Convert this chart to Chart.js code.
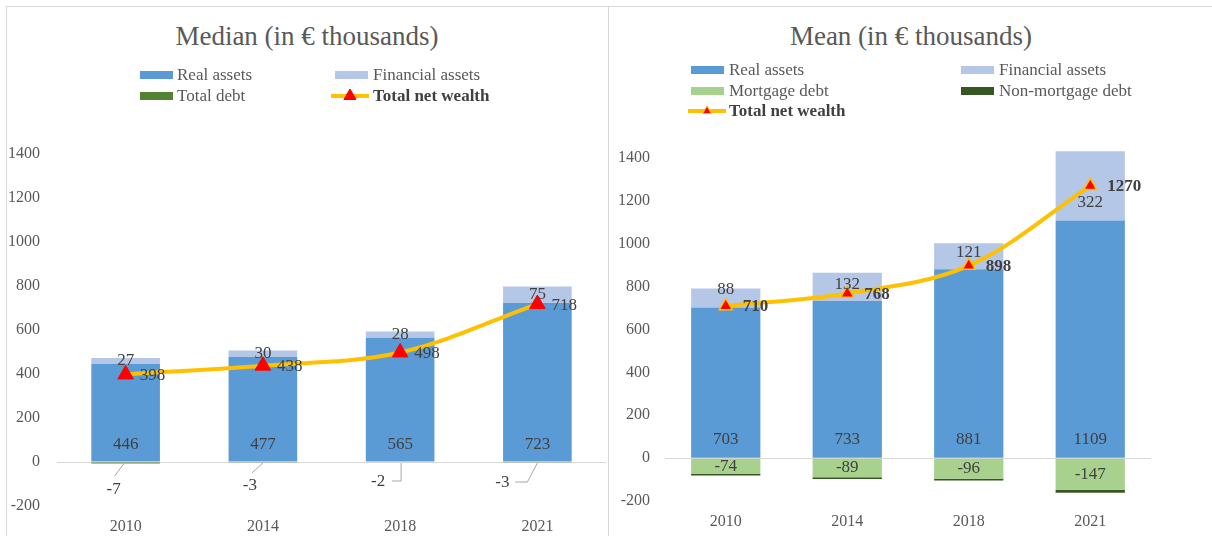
<!DOCTYPE html>
<html>
<head>
<meta charset="utf-8">
<script src="https://cdn.jsdelivr.net/npm/chart.js@4"></script>
<style>
  html, body { margin: 0; padding: 0; background: #fff; }
  body { position: relative; width: 1212px; height: 536px; overflow: hidden; font-family: "Liberation Serif", serif; }
  .panel { position: absolute; border: 1px solid #d9d9d9; box-sizing: border-box; }
  canvas { position: absolute; top: 0; }
  .title { position: absolute; top: 20px; font-size: 27px; color: #595959; text-align: center; white-space: nowrap; line-height: 32px; }
  .lg-text { position: absolute; font-size: 17px; color: #595959; line-height: 20px; white-space: nowrap; }
  .lg-box { position: absolute; height: 8px; }
  .lg-line { position: absolute; }
</style>
</head>
<body>
<div class="panel" style="left:6px; top:6px; width:603px; height:560px;"></div>
<div class="panel" style="left:608px; top:6px; width:640px; height:560px;"></div>
<div class="title" style="left:107px; width:400px;">Median (in € thousands)</div>
<div class="title" style="left:711px; width:400px;">Mean (in € thousands)</div>
<canvas id="cMedian" width="608" height="536" style="left:0px;"></canvas>
<canvas id="cMean" width="604" height="536" style="left:608px;"></canvas>
<div id="legends"></div>
<script>
// ---------- DATA ----------
const years = ['2010', '2014', '2018', '2021'];

// Median (in € thousands)
const medianRealAssets = [446, 477, 565, 723];
const medianFinancialAssets = [27, 30, 28, 75];
const medianTotalDebt = [-7, -3, -2, -3];
const medianNetWealth = [398, 438, 498, 718];

// Mean (in € thousands)
const meanRealAssets = [703, 733, 881, 1109];
const meanFinancialAssets = [88, 132, 121, 322];
const meanMortgageDebt = [-74, -89, -96, -147];
const meanNonMortgageDebt = [-7, -8, -8, -14];
const meanNetWealth = [710, 768, 898, 1270];

const yTickMin = -200, yTickMax = 1400, yTickStep = 200;

// ---------- STYLE ----------
const C = {
  real: '#5B9BD5', fin: '#B4C7E7', debt: '#548235',
  mort: '#A9D18E', nonmort: '#375623', line: '#FFC000', marker: '#FF0000',
  text: '#404040', tick: '#595959', zero: '#d9d9d9'
};
Chart.defaults.font.family = '"Liberation Serif", serif';
Chart.defaults.color = C.tick;

const labelPlugin = {
  id: 'valueLabels',
  afterDatasetsDraw(chart) {
    const ctx = chart.ctx;
    const y0 = chart.scales.y.getPixelForValue(0);
    chart.data.datasets.forEach((ds, i) => {
      const mode = ds.labelMode;
      if (!mode) return;
      const meta = chart.getDatasetMeta(i);
      meta.data.forEach((el, j) => {
        const v = ds.data[j];
        ctx.save();
        ctx.fillStyle = C.text;
        ctx.font = (ds.labelBold ? 'bold ' : '') + '17px "Liberation Serif"';
        ctx.textAlign = 'center';
        ctx.textBaseline = 'middle';
        if (mode === 'base') {
          ctx.fillText(String(v), el.x, el.base - ds.labelLift);
        } else if (mode === 'center') {
          const nudge = ds.labelNudge ? ds.labelNudge[j] : 0;
          ctx.fillText(String(v), el.x, (el.y + el.base) / 2 + nudge);
        } else if (mode === 'right') {
          ctx.textAlign = 'left';
          ctx.fillText(String(v), el.x + ds.labelGap, el.y + 1);
        } else if (mode === 'leader') {
          const L = ds.leaders[j];
          ctx.strokeStyle = '#a6a6a6';
          ctx.lineWidth = 1;
          ctx.beginPath();
          L.path.forEach((p, k) => {
            const px = el.x + p[0], py = y0 + p[1];
            if (k === 0) ctx.moveTo(px, py); else ctx.lineTo(px, py);
          });
          ctx.stroke();
          ctx.fillText(String(v), el.x + L.lx, y0 + L.ly);
        }
        ctx.restore();
      });
    });
  }
};

function makeOptions(axisW, xAxisH, padTop, padRight, yPad, xPad, barPct) {
  return {
    responsive: false,
    animation: false,
    events: [],
    layout: { autoPadding: false, padding: { top: padTop, right: padRight, left: 0, bottom: 0 } },
    plugins: { legend: { display: false }, tooltip: { enabled: false }, title: { display: false } },
    datasets: { bar: { barPercentage: barPct, categoryPercentage: 1 } },
    scales: {
      x: {
        stacked: true,
        grid: { display: false, drawTicks: false },
        border: { display: false },
        ticks: { font: { size: 16 }, color: C.tick, padding: xPad },
        afterFit(s) { s.height = xAxisH; s.paddingLeft = 0; s.paddingRight = 0; }
      },
      y: {
        stacked: true,
        min: yTickMin, max: yTickMax,
        grid: {
          drawTicks: false,
          color: (c) => (c.tick && c.tick.value === 0) ? C.zero : 'rgba(0,0,0,0)',
          lineWidth: 1
        },
        border: { display: false },
        ticks: { stepSize: yTickStep, font: { size: 16 }, color: C.tick, padding: yPad,
                 callback: (v) => String(v) },
        afterFit(s) { s.width = axisW; s.paddingTop = 0; s.paddingBottom = 0; }
      }
    }
  };
}

const medianChart = new Chart(document.getElementById('cMedian'), {
  type: 'bar',
  data: {
    labels: years,
    datasets: [
      { type: 'line', label: 'Total net wealth', data: medianNetWealth, order: 0, stack: 'line', clip: false,
        borderColor: C.line, borderWidth: 4, tension: 0.35, fill: false,
        pointStyle: 'triangle', pointRadius: 9, pointBackgroundColor: C.marker,
        pointBorderColor: C.marker, pointBorderWidth: 1,
        labelMode: 'right', labelGap: 14, labelBold: false },
      { label: 'Real assets', data: medianRealAssets, backgroundColor: C.real, stack: 'w', order: 1, clip: false,
        labelMode: 'base', labelLift: 17 },
      { label: 'Financial assets', data: medianFinancialAssets, backgroundColor: C.fin, stack: 'w', order: 1, clip: false,
        labelMode: 'center' },
      { label: 'Total debt', data: medianTotalDebt, backgroundColor: C.debt, stack: 'w', order: 1, clip: false,
        labelMode: 'leader',
        leaders: [
          { lx: -12, ly: 28, path: [[-2, 2], [-11, 14]] },
          { lx: -13, ly: 24, path: [[0, 1], [-11, 11]] },
          { lx: -22, ly: 20, path: [[1, 1], [1, 19], [-8, 19]] },
          { lx: -35, ly: 21, path: [[0, 1], [-10, 20], [-22, 20]] }
        ] }
    ]
  },
  options: makeOptions(57, 30, 154, 2, 17, 11, 0.5),
  plugins: [labelPlugin]
});

const meanChart = new Chart(document.getElementById('cMean'), {
  type: 'bar',
  data: {
    labels: years,
    datasets: [
      { type: 'line', label: 'Total net wealth', data: meanNetWealth, order: 0, stack: 'line', clip: false,
        borderColor: C.line, borderWidth: 4, tension: 0.35, fill: false,
        pointStyle: 'triangle', pointRadius: 7.5, pointBackgroundColor: C.marker,
        pointBorderColor: C.line, pointBorderWidth: 1.5,
        labelMode: 'right', labelGap: 17, labelBold: true },
      { label: 'Real assets', data: meanRealAssets, backgroundColor: C.real, stack: 'w', order: 1, clip: false,
        labelMode: 'base', labelLift: 18 },
      { label: 'Financial assets', data: meanFinancialAssets, backgroundColor: C.fin, stack: 'w', order: 1, clip: false,
        labelMode: 'center', labelNudge: [-8, -2, -4, 17] },
      { label: 'Mortgage debt', data: meanMortgageDebt, backgroundColor: C.mort, stack: 'w', order: 1, clip: false,
        labelMode: 'center' },
      { label: 'Non-mortgage debt', data: meanNonMortgageDebt, backgroundColor: C.nonmort, stack: 'w', order: 1, clip: false }
    ]
  },
  options: makeOptions(57, 35, 158, 61, 15, 11, 0.57),
  plugins: [labelPlugin]
});

// ---------- HTML legends built from the chart datasets ----------
function buildLegend(chart, slots) {
  const host = document.getElementById('legends');
  const byLabel = {};
  chart.data.datasets.forEach(ds => { byLabel[ds.label] = ds; });
  slots.forEach(s => {
    const ds = byLabel[s.label];
    if (ds.type === 'line') {
      const ns = 'http://www.w3.org/2000/svg';
      const svg = document.createElementNS(ns, 'svg');
      svg.setAttribute('width', 38); svg.setAttribute('height', 16);
      svg.setAttribute('class', 'lg-line');
      svg.style.left = s.mx + 'px'; svg.style.top = (s.y - 8) + 'px';
      const ln = document.createElementNS(ns, 'line');
      ln.setAttribute('x1', 0); ln.setAttribute('y1', 8); ln.setAttribute('x2', 38); ln.setAttribute('y2', 8);
      ln.setAttribute('stroke', ds.borderColor); ln.setAttribute('stroke-width', 4);
      svg.appendChild(ln);
      const r = s.tri;
      const tri = document.createElementNS(ns, 'polygon');
      tri.setAttribute('points', `19,${8 - r} ${19 + r * 0.87},${8 + r * 0.5} ${19 - r * 0.87},${8 + r * 0.5}`);
      tri.setAttribute('fill', ds.pointBackgroundColor);
      tri.setAttribute('stroke', ds.pointBorderColor);
      tri.setAttribute('stroke-width', 1);
      svg.appendChild(tri);
      host.appendChild(svg);
    } else {
      const b = document.createElement('div');
      b.className = 'lg-box';
      b.style.left = s.mx + 'px'; b.style.top = (s.y - 4) + 'px';
      b.style.width = '33px'; b.style.background = ds.backgroundColor;
      host.appendChild(b);
    }
    const t = document.createElement('div');
    t.className = 'lg-text';
    t.textContent = ds.label;
    t.style.left = s.tx + 'px'; t.style.top = (s.y - 10) + 'px';
    if (ds.type === 'line') { t.style.fontWeight = 'bold'; t.style.color = C.text; }
    host.appendChild(t);
  });
}

buildLegend(medianChart, [
  { label: 'Real assets', mx: 140, tx: 177, y: 75 },
  { label: 'Financial assets', mx: 335, tx: 373, y: 75 },
  { label: 'Total debt', mx: 140, tx: 177, y: 96 },
  { label: 'Total net wealth', mx: 331, tx: 373, y: 96, tri: 7 }
]);
buildLegend(meanChart, [
  { label: 'Real assets', mx: 691, tx: 729, y: 70 },
  { label: 'Financial assets', mx: 961, tx: 999, y: 70 },
  { label: 'Mortgage debt', mx: 691, tx: 729, y: 91 },
  { label: 'Non-mortgage debt', mx: 961, tx: 999, y: 91 },
  { label: 'Total net wealth', mx: 688, tx: 729, y: 111, tri: 5 }
]);
</script>
</body>
</html>
